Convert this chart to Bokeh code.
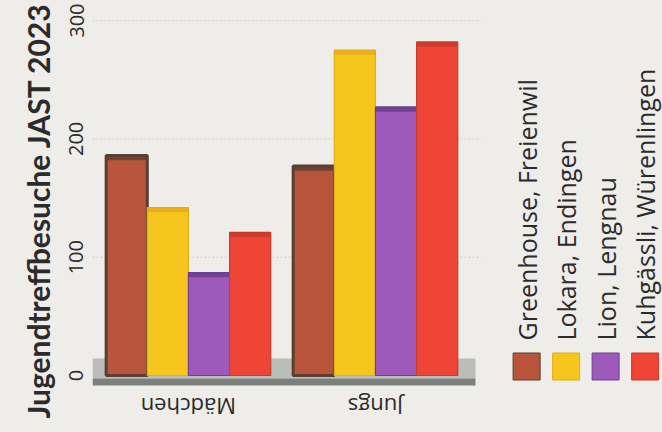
from math import pi
from bokeh.plotting import figure
from bokeh.models import Range1d, FixedTicker, Title, BoxAnnotation
from bokeh.embed import file_html
from bokeh.resources import INLINE
from bokeh.core.properties import value

# ---- data ----
title_text = "Jugendtreffbesuche JAST 2023"
groups = ["Mädchen", "Jungs"]
sites = ["Greenhouse, Freienwil", "Lokara, Endingen", "Lion, Lengnau", "Kuhgässli, Würenlingen"]
maedchen = [186, 142, 87, 121]
jungs = [177, 275, 227, 282]
y_ticks = [0, 100, 200, 300]

colors = ["#b8553a", "#f6c61f", "#9e59bc", "#ee4537"]
outlines = ["#5a3d33", "#e0ae16", "#6f408f", "#c93a2e"]
caps = ["#5a3d33", "#e8a91a", "#6a3b8a", "#c8382c"]
BG = "#eeede9"
TXT = "#2b2b2b"
FONT = "Open Sans"

# ---- figure ----
p = figure(width=662, height=432, output_backend="svg", toolbar_location=None,
           x_range=Range1d(-0.513, 2.535), y_range=Range1d(-48.2, 317),
           min_border_left=92, min_border_right=0, min_border_top=0, min_border_bottom=0)
p.background_fill_color = BG
p.border_fill_color = BG
p.outline_line_color = None
p.xaxis.visible = False
p.xgrid.grid_line_color = None
p.ygrid.grid_line_color = None

n_groups = len(groups)
chart_right = n_groups - 1 + 0.535

# floor (3D base)
p.add_layout(BoxAnnotation(bottom=-2.5, top=14.4, right=chart_right, fill_color="#babdb9",
                           fill_alpha=1, line_color=None, level="underlay"))
p.add_layout(BoxAnnotation(bottom=-8.5, top=-2.5, right=chart_right, fill_color="#7b807c",
                           fill_alpha=1, line_color=None, level="underlay"))

# faint dotted gridlines (chart area only)
grid_vals = y_ticks[1:]
p.segment(x0=[p.x_range.start] * len(grid_vals), x1=[chart_right + 0.03] * len(grid_vals),
          y0=grid_vals, y1=grid_vals, line_color="#cfcdc8", line_dash="2 2", line_width=1)

# bars
slot = 0.22
gx = list(range(n_groups))
for i, s in enumerate(sites):
    tops = [maedchen[i], jungs[i]]
    xs = [g + (i - 1.5) * slot for g in gx]
    p.vbar(x=xs, top=tops, bottom=0, width=slot, fill_color=colors[i],
           line_color=outlines[i], line_width=3 if i == 0 else 1.2)
    p.vbar(x=xs, top=tops, bottom=[t - 4 for t in tops], width=slot,
           fill_color=caps[i], fill_alpha=0.8, line_color=None)

# category labels (upside-down, as in the reference)
p.text(x=gx, y=[-27] * n_groups, text=groups, angle=pi, text_align="center",
       text_baseline="middle", text_font=value(FONT), text_font_size="22px", text_color=TXT)

# y axis
p.yaxis.ticker = FixedTicker(ticks=y_ticks)
p.yaxis.major_label_orientation = "vertical"
p.yaxis.major_label_text_font = FONT
p.yaxis.major_label_text_font_size = "20px"
p.yaxis.major_label_text_color = TXT
p.yaxis.major_label_standoff = 3
p.yaxis.axis_line_color = None
p.yaxis.major_tick_line_color = None
p.yaxis.minor_tick_line_color = None

p.add_layout(Title(text=title_text, align="left", offset=14, standoff=22, text_font="Lato",
                   text_font_size="30px", text_font_style="bold", text_color=TXT), "left")

# legend (own ranges inside the frame)
p.extra_x_ranges = {"lg": Range1d(-10.99, 3.44)}
p.extra_y_ranges = {"lg": Range1d(0, 432)}
idx = list(range(len(sites)))
p.rect(x=idx, y=[66] * len(sites), width=27, height=27, width_units="screen", height_units="screen",
       fill_color=colors, line_color=outlines, line_width=1, x_range_name="lg", y_range_name="lg")
p.text(x=idx, y=[92] * len(sites), text=sites, angle=pi / 2, text_align="left",
       text_baseline="middle", text_font=value(FONT), text_font_size="25px", text_color=TXT,
       x_range_name="lg", y_range_name="lg")

html = file_html(p, INLINE)
html = html.replace("<head>", "<head><style>body{background:%s;}</style>" % BG, 1)
open("out.html", "w").write(html)
